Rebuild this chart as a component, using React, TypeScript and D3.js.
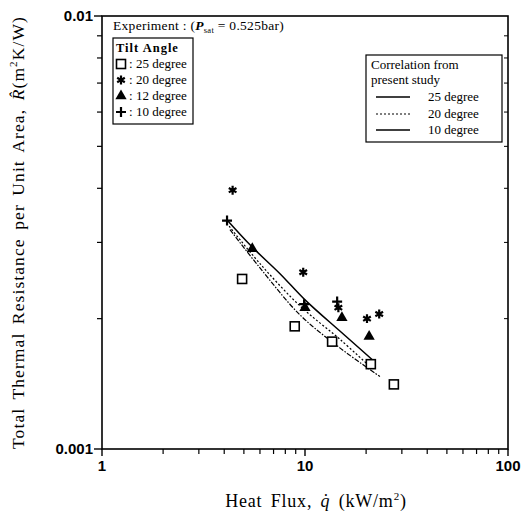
import * as d3 from "d3";

const width = 525;
const height = 518;

const left = 102;
const right = 508;
const top = 16;
const bottom = 449;

const q25 = [4.9, 8.9, 13.6, 21.1, 27.4];
const r25 = [0.00247, 0.00192, 0.00177, 0.00157, 0.00141];

const q20 = [4.4, 9.8, 14.6, 20.2, 23.2];
const r20 = [0.00396, 0.00256, 0.00212, 0.002, 0.00205];

const q12 = [5.5, 10.0, 15.2, 20.7];
const r12 = [0.0029, 0.00212, 0.00201, 0.00182];

const q10 = [4.13, 9.9, 14.4];
const r10 = [0.00337, 0.00216, 0.00219];

// correlation curves
const cq10 = [4.13, 5.48, 7.53, 10.0, 14.9, 21.4];
const cr10 = [0.00338, 0.00293, 0.00254, 0.00221, 0.00187, 0.00161];
const cq20 = [4.23, 6.0, 9.45, 14.9, 20.9];
const cr20 = [0.00327, 0.00268, 0.00214, 0.00179, 0.00155];
const cq25 = [4.27, 6.0, 9.45, 14.9, 23.4];
const cr25 = [0.00321, 0.00262, 0.00204, 0.00171, 0.00147];

const xTicks = [1, 10, 100];
const yTicks = [0.001, 0.01];

const x = d3.scaleLog().domain([1, 100]).range([left, right]);
const y = d3.scaleLog().domain([0.001, 0.01]).range([bottom, top]);

const zip = (a: number[], b: number[]) => a.map((v, i) => [v, b[i]] as [number, number]);

const line = d3
  .line<[number, number]>()
  .x((d) => x(d[0]))
  .y((d) => y(d[1]))
  .curve(d3.curveCatmullRom);

const serif = "'Liberation Serif', 'DejaVu Serif', serif";
const sans = "'Liberation Sans', Arial, sans-serif";

const Square = ({ cx, cy }: { cx: number; cy: number }) => (
  <rect x={cx - 4.5} y={cy - 4.5} width={9} height={9} fill="white" stroke="black" strokeWidth={1.6} />
);
const Star = ({ cx, cy }: { cx: number; cy: number }) => (
  <path
    d={d3.symbol().type(d3.symbolAsterisk).size(55)() as string}
    transform={`translate(${cx},${cy})`}
    stroke="black"
    strokeWidth={2.2}
    fill="none"
  />
);
const Tri = ({ cx, cy }: { cx: number; cy: number }) => (
  <path d={d3.symbol().type(d3.symbolTriangle).size(55)() as string} transform={`translate(${cx},${cy})`} fill="black" />
);
const Plus = ({ cx, cy }: { cx: number; cy: number }) => (
  <path
    d={`M${cx - 5},${cy}H${cx + 5}M${cx},${cy - 5}V${cy + 5}`}
    stroke="black"
    strokeWidth={2.2}
  />
);

export default function App() {
  const xMinor = [2, 3, 4, 5, 6, 7, 8, 9, 20, 30, 40, 50, 60, 70, 80, 90];
  const yMinor = [2, 3, 4, 5, 6, 7, 8, 9].map((d) => d / 1000);
  return (
    <svg width={width} height={height} style={{ position: "absolute", left: 0, top: 0, background: "white" }}>
      <rect x={left} y={top} width={right - left} height={bottom - top} fill="none" stroke="black" strokeWidth={1.6} />
      {xMinor.map((t) => (
        <g key={"xm" + t}>
          <line x1={x(t)} x2={x(t)} y1={bottom} y2={bottom + 5} stroke="black" strokeWidth={1.2} />
        </g>
      ))}
      {yMinor.map((t) => (
        <g key={"ym" + t}>
          <line x1={left - 5} x2={left} y1={y(t)} y2={y(t)} stroke="black" strokeWidth={1.2} />
          <line x1={right - 4} x2={right} y1={y(t)} y2={y(t)} stroke="black" strokeWidth={1} />
        </g>
      ))}
      {xTicks.map((t) => (
        <g key={"x" + t}>
          <line x1={x(t)} x2={x(t)} y1={bottom} y2={bottom + 7} stroke="black" strokeWidth={1.4} />
          <text x={x(t)} y={bottom + 22} textAnchor="middle" fontFamily={sans} fontWeight="bold" fontSize={15}>
            {t}
          </text>
        </g>
      ))}
      {yTicks.map((t) => (
        <g key={"y" + t}>
          <line x1={left - 8} x2={left} y1={y(t)} y2={y(t)} stroke="black" strokeWidth={1.4} />
          <text x={left - 9} y={y(t) + 5} textAnchor="end" fontFamily={sans} fontWeight="bold" fontSize={15}>
            {t}
          </text>
        </g>
      ))}

      {/* correlation curves */}
      <path d={line(zip(cq10, cr10)) as string} fill="none" stroke="black" strokeWidth={1.5} />
      <path d={line(zip(cq20, cr20)) as string} fill="none" stroke="black" strokeWidth={1.2} strokeDasharray="2,2" />
      <path d={line(zip(cq25, cr25)) as string} fill="none" stroke="black" strokeWidth={1.2} strokeDasharray="5,1.5,1.5,1.5" />

      {zip(q25, r25).map((d, i) => (
        <Square key={"s" + i} cx={x(d[0])} cy={y(d[1])} />
      ))}
      {zip(q20, r20).map((d, i) => (
        <Star key={"a" + i} cx={x(d[0])} cy={y(d[1])} />
      ))}
      {zip(q12, r12).map((d, i) => (
        <Tri key={"t" + i} cx={x(d[0])} cy={y(d[1])} />
      ))}
      {zip(q10, r10).map((d, i) => (
        <Plus key={"p" + i} cx={x(d[0])} cy={y(d[1])} />
      ))}

      {/* experiment note */}
      <text x={113} y={30} fontFamily={serif} fontSize={13.5} letterSpacing={0.3}>
        Experiment : (<tspan fontStyle="italic" fontWeight="bold">P</tspan>
        <tspan fontSize={8.5} dy={3}>sat</tspan>
        <tspan dy={-3}> = 0.525bar)</tspan>
      </text>

      {/* tilt angle legend */}
      <rect x={113} y={38} width={80} height={86} fill="white" stroke="black" strokeWidth={1.2} />
      <text x={116} y={52} fontFamily={serif} fontSize={12.5} fontWeight="bold" letterSpacing={1}>
        Tilt Angle
      </text>
      <Square cx={121} cy={64} />
      <Star cx={121} cy={80} />
      <Tri cx={121} cy={96} />
      <Plus cx={121} cy={112} />
      {["25", "20", "12", "10"].map((a, i) => (
        <text key={a} x={129} y={68 + i * 16} fontFamily={serif} fontSize={13}>
          : {a} degree
        </text>
      ))}

      {/* correlation legend */}
      <rect x={366} y={55} width={136} height={87} fill="white" stroke="black" strokeWidth={1.2} />
      <text x={371} y={69} fontFamily={serif} fontSize={13}>
        Correlation from
      </text>
      <text x={371} y={84} fontFamily={serif} fontSize={13}>
        present study
      </text>
      <line x1={376} x2={410} y1={97} y2={97} stroke="black" strokeWidth={1.5} />
      <line x1={376} x2={410} y1={114} y2={114} stroke="black" strokeWidth={1.2} strokeDasharray="2,2" />
      <line x1={376} x2={410} y1={130} y2={130} stroke="black" strokeWidth={1.5} />
      {["25", "20", "10"].map((a, i) => (
        <text key={a} x={428} y={101 + i * 16.5} fontFamily={serif} fontSize={13}>
          {a} degree
        </text>
      ))}

      {/* axis titles */}
      <text
        x={316}
        y={507}
        textAnchor="middle"
        fontFamily={serif}
        fontSize={18}
        letterSpacing={0.8}
        wordSpacing={3}
      >
        Heat Flux, <tspan fontStyle="italic">q̇</tspan> (kW/m<tspan fontSize={11} dy={-7}>2</tspan>
        <tspan dy={7}>)</tspan>
      </text>
      <text
        transform={`translate(24,${(top + bottom) / 2}) rotate(-90)`}
        textAnchor="middle"
        fontFamily={serif}
        fontSize={17.5}
        letterSpacing={1.1}
        wordSpacing={3}
      >
        Total Thermal Resistance per Unit Area, <tspan fontStyle="italic">R̂</tspan>(m
        <tspan fontSize={11} dy={-7}>2</tspan>
        <tspan dy={7}>K/W)</tspan>
      </text>
    </svg>
  );
}
